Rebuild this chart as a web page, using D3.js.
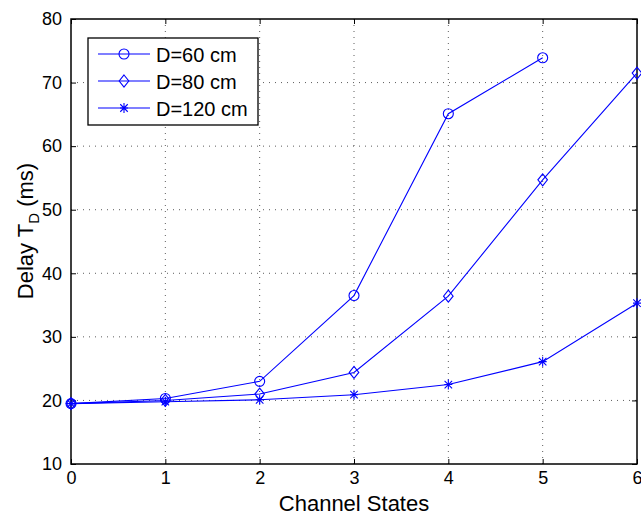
<!DOCTYPE html>
<html>
<head>
<meta charset="utf-8">
<script src="https://cdn.jsdelivr.net/npm/d3@7"></script>
<style>
  body { margin: 0; background: #fff; }
  text { font-family: "Liberation Sans", Arial, sans-serif; }
</style>
</head>
<body>
<script>
const width = 641;
const height = 513;
const margin = { top: 19, right: 4, bottom: 49, left: 71 };

const states = [0, 1, 2, 3, 4, 5, 6];
const d60 = [19.5, 20.3, 23.0, 36.5, 65.1, 73.9];
const d80 = [19.5, 20.0, 21.0, 24.4, 36.4, 54.7, 71.5];
const d120 = [19.5, 19.8, 20.1, 20.9, 22.5, 26.1, 35.3];
const xTicks = [0, 1, 2, 3, 4, 5, 6];
const yTicks = [10, 20, 30, 40, 50, 60, 70, 80];
const seriesNames = ["D=60 cm", "D=80 cm", "D=120 cm"];
const markers = ["circle", "diamond", "star"];

const blue = "#0000ff";

const svg = d3
  .select("body")
  .append("svg")
  .attr("width", width)
  .attr("height", height);

const xScale = d3
  .scaleLinear()
  .domain([0, 6])
  .range([margin.left, width - margin.right]);
const yScale = d3
  .scaleLinear()
  .domain([10, 80])
  .range([height - margin.bottom, margin.top]);

const x0 = xScale.range()[0], x1 = xScale.range()[1];
const y0 = yScale.range()[0], y1 = yScale.range()[1];

// grid
svg
  .append("g")
  .selectAll("line")
  .data(xTicks.slice(1, -1))
  .enter()
  .append("line")
  .attr("x1", (d) => xScale(d))
  .attr("x2", (d) => xScale(d))
  .attr("y1", y1)
  .attr("y2", y0)
  .attr("stroke", "#333")
  .attr("stroke-width", 0.8)
  .attr("stroke-dasharray", "1,5");
svg
  .append("g")
  .selectAll("line")
  .data(yTicks.slice(1, -1))
  .enter()
  .append("line")
  .attr("x1", x0)
  .attr("x2", x1)
  .attr("y1", (d) => yScale(d))
  .attr("y2", (d) => yScale(d))
  .attr("stroke", "#333")
  .attr("stroke-width", 0.8)
  .attr("stroke-dasharray", "1,5");

// axes with inward ticks
const xAxis = d3.axisBottom(xScale).tickValues(xTicks).tickSize(-5).tickPadding(7).tickFormat(d3.format("d"));
const yAxis = d3.axisLeft(yScale).tickValues(yTicks).tickSize(-5).tickPadding(9);

const fontFix = (g) =>
  g.selectAll("text").attr("font-size", 18).attr("fill", "#000").style("font-family", "Liberation Sans, Arial, sans-serif");

svg
  .append("g")
  .attr("transform", `translate(0,${y0})`)
  .call(xAxis)
  .call((g) => g.select(".domain").remove())
  .call(fontFix);
svg
  .append("g")
  .attr("transform", `translate(${x0},0)`)
  .call(yAxis)
  .call((g) => g.select(".domain").remove())
  .call(fontFix);
svg
  .append("g")
  .attr("transform", `translate(0,${y1})`)
  .call(d3.axisTop(xScale).tickValues(xTicks).tickSize(-5).tickFormat(""))
  .call((g) => g.select(".domain").remove());
svg
  .append("g")
  .attr("transform", `translate(${x1},0)`)
  .call(d3.axisRight(yScale).tickValues(yTicks).tickSize(-5).tickFormat(""))
  .call((g) => g.select(".domain").remove());

svg
  .append("rect")
  .attr("x", x0)
  .attr("y", y1)
  .attr("width", x1 - x0)
  .attr("height", y0 - y1)
  .attr("fill", "none")
  .attr("stroke", "#000")
  .attr("stroke-width", 1.5);

// marker drawing
function drawMarker(g, type, cx, cy) {
  if (type === "circle") {
    g.append("circle").attr("cx", cx).attr("cy", cy).attr("r", 5)
      .attr("fill", "none").attr("stroke", blue).attr("stroke-width", 1.1);
  } else if (type === "diamond") {
    const s = 6;
    g.append("path")
      .attr("d", `M${cx},${cy - s}L${cx + s * 0.8},${cy}L${cx},${cy + s}L${cx - s * 0.8},${cy}Z`)
      .attr("fill", "none").attr("stroke", blue).attr("stroke-width", 1.1);
  } else {
    const s = 5;
    const d = s * 0.75;
    g.append("path")
      .attr("d", `M${cx},${cy - s}L${cx},${cy + s}M${cx - d},${cy - d}L${cx + d},${cy + d}M${cx - d},${cy + d}L${cx + d},${cy - d}M${cx - s * 0.8},${cy}L${cx + s * 0.8},${cy}`)
      .attr("fill", "none").attr("stroke", blue).attr("stroke-width", 1.1);
  }
}

const allSeries = [d60, d80, d120];
const line = d3.line().x((d, i) => xScale(states[i])).y((d) => yScale(d));

allSeries.forEach((vals, k) => {
  const g = svg.append("g");
  g.append("path")
    .attr("d", line(vals))
    .attr("fill", "none")
    .attr("stroke", blue)
    .attr("stroke-width", 1.1);
  vals.forEach((v, i) => drawMarker(g, markers[k], xScale(states[i]), yScale(v)));
});

// legend
const legend = svg.append("g");
legend
  .append("rect")
  .attr("x", 88)
  .attr("y", 38)
  .attr("width", 170)
  .attr("height", 87)
  .attr("fill", "#fff")
  .attr("stroke", "#000")
  .attr("stroke-width", 1.3);
seriesNames.forEach((name, k) => {
  const ly = 54 + k * 27;
  legend.append("line").attr("x1", 98).attr("x2", 150).attr("y1", ly).attr("y2", ly)
    .attr("stroke", blue).attr("stroke-width", 1.1);
  drawMarker(legend, markers[k], 124, ly);
  legend.append("text").attr("x", 156).attr("y", ly + 7.5).attr("font-size", 20).text(name);
});

// axis labels
svg
  .append("text")
  .attr("x", (x0 + x1) / 2)
  .attr("y", 511)
  .attr("text-anchor", "middle")
  .attr("font-size", 22)
  .text("Channel States");

const yl = svg
  .append("text")
  .attr("transform", `translate(33,231) rotate(-90)`)
  .attr("text-anchor", "middle")
  .attr("font-size", 22);
yl.append("tspan").text("Delay T");
yl.append("tspan").attr("font-size", 15).attr("dy", 6).text("D");
yl.append("tspan").attr("dy", -6).text(" (ms)");
</script>
</body>
</html>
